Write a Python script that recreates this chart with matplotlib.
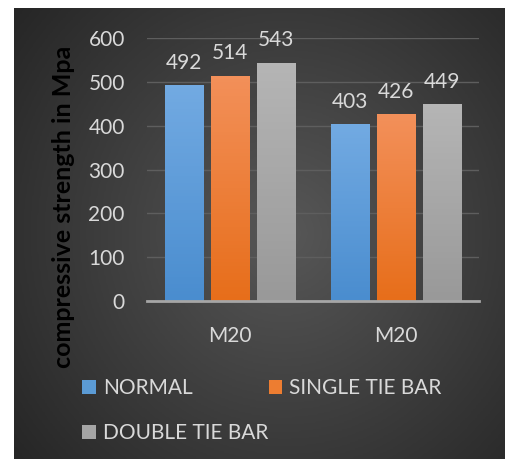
import numpy as np
import matplotlib.pyplot as plt
from matplotlib.colors import LinearSegmentedColormap
from matplotlib.patches import Patch

groups = ["M20", "M20"]
series = ["NORMAL", "SINGLE TIE BAR", "DOUBLE TIE BAR"]
normal = [492, 403]
single_tie = [514, 426]
double_tie = [543, 449]
values = [normal, single_tie, double_tie]

# top / bottom shades of each series fill
top_cols = ["#72aae2", "#f3905a", "#b5b5b5"]
bot_cols = ["#4a8dcf", "#e76e1a", "#999999"]
key_cols = ["#5b9bd5", "#ed7d31", "#a5a5a5"]

plt.rcParams['font.family'] = ['Lato', 'DejaVu Sans']

W, H = 506, 459
fig = plt.figure(figsize=(W / 100, H / 100), dpi=100, facecolor="white")

# dark panel with a soft radial glow
bg = fig.add_axes([14 / W, 0, 1 - 14 / W, 1 - 8 / H], zorder=-5)
yy, xx = np.mgrid[0:1:300j, 0:1:300j]
r = np.sqrt(((xx - 0.55) / 0.75) ** 2 + ((yy - 0.5) / 0.85) ** 2)
shade = np.clip(1 - r, 0, 1)
bg_cmap = LinearSegmentedColormap.from_list("bg", ["#262626", "#575757"])
bg.imshow(shade, cmap=bg_cmap, aspect="auto", extent=(0, 1, 0, 1), origin="lower")
bg.set_axis_off()

ax = fig.add_axes([147 / W, 1 - 301 / H, 332 / W, 263 / H])
ax.set_facecolor("none")

x = np.arange(len(groups))
width = 0.229
step = 0.277
for i, (vals, name) in enumerate(zip(values, series)):
    bars = ax.bar(x + (i - 1) * step, vals, width, color=bot_cols[i], label=name, zorder=3)
    cmap = LinearSegmentedColormap.from_list(f"g{i}", [bot_cols[i], top_cols[i]])
    for rect in bars:
        x0 = rect.get_x()
        h = rect.get_height()
        im = ax.imshow(np.linspace(0, 1, 64).reshape(-1, 1), cmap=cmap, aspect="auto",
                       origin="lower", extent=(x0, x0 + rect.get_width(), 0, h), zorder=3.1)
        im.set_clip_path(rect)
    ax.bar_label(bars, padding=9, fontsize=15, color="#d9d9d9")

ax.set_xlim(-0.5, 1.5)
ax.set_ylim(0, 600)
ax.set_yticks(range(0, 601, 100))
ax.grid(axis="y", color="#5e5e5e", lw=1, zorder=0)
ax.set_axisbelow(True)
for s in ["top", "right", "left"]:
    ax.spines[s].set_visible(False)
ax.spines["bottom"].set_color("#a6a6a6")
ax.spines["bottom"].set_linewidth(2)
ax.spines["bottom"].set_zorder(4)

ax.set_xticks(x)
ax.set_xticklabels(groups)
ax.tick_params(axis="x", length=0, pad=18, labelsize=15, labelcolor="#d9d9d9")
ax.tick_params(axis="y", length=0, pad=16, labelsize=15, labelcolor="#d9d9d9")

ax.set_ylabel("compressive strength in Mpa", fontsize=18, fontweight="bold",
              color="black")
ax.yaxis.set_label_coords(-72 / 332, 94 / 263)

# legend is filled column by column, so order keys to read row by row
order = [0, 2, 1]
fig.legend([Patch(facecolor=key_cols[k]) for k in order], [series[k] for k in order],
           loc="upper left", bbox_to_anchor=(74 / W, 1 - 370 / H),
           ncol=2, frameon=False, fontsize=15, labelcolor="#d9d9d9",
           handlelength=0.65, handleheight=0.65, handletextpad=0.35,
           columnspacing=0.0, labelspacing=1.2, borderaxespad=0)

fig.savefig("out.png", dpi=100, facecolor="white")
